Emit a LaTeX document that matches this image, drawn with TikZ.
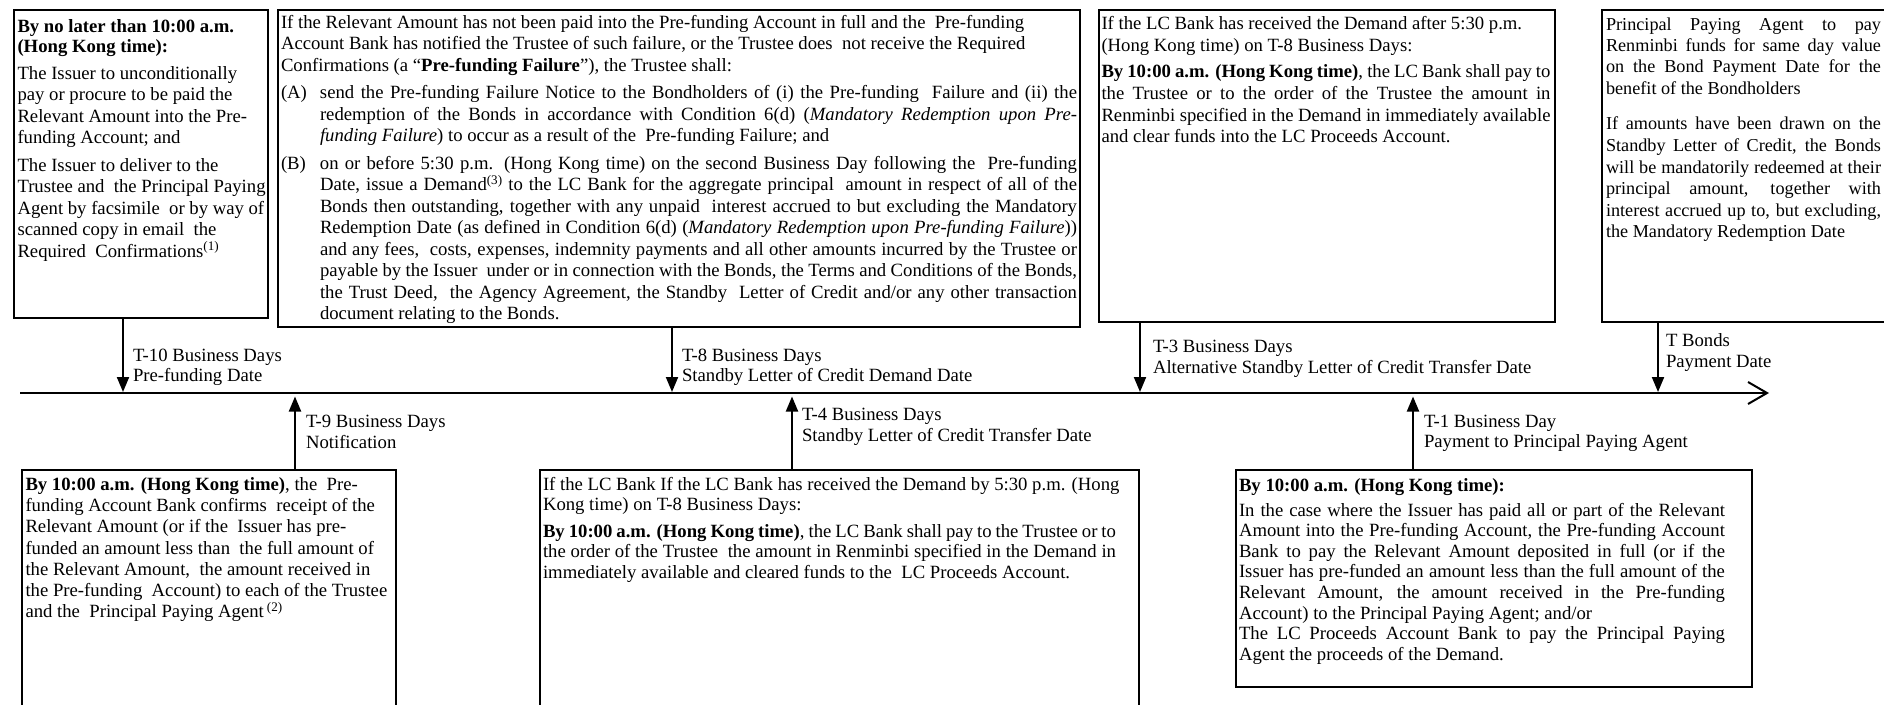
\documentclass[tikz,border=0pt]{standalone}
\usepackage{fontspec}
\setmainfont{Liberation Serif}
\usetikzlibrary{arrows.meta}
\newcommand\jln[1]{\hbox to \linewidth{#1}}
\newcommand\rln[1]{\hbox to \linewidth{#1\hfil}}
\newcommand\ijl[2]{\hbox to \linewidth{\hbox to 39pt{#1\hfil}#2}}
\newcommand\irl[2]{\hbox to \linewidth{\hbox to 39pt{#1\hfil}#2\hfil}}
\newcommand\bfs[1]{\fontsize{18.7}{#1}\selectfont}
\tikzset{
  frame/.style={draw=black, line width=1.5pt, inner sep=0pt, outer sep=0pt, anchor=north west},
  txt/.style={anchor=base west, inner sep=0pt, outer sep=0pt},
  arr/.style={line width=2pt, -{Triangle[length=15pt,width=12pt]}},
  axisline/.style={line width=2pt, -{Straight Barb[length=19pt,width=22pt]}},
}
\begin{document}
\begin{tikzpicture}[x=1pt,y=-1pt]
\useasboundingbox (0,0) rectangle (1884,704);
% ---------- frames ----------
\node[frame, minimum width=254pt, minimum height=308pt] (b1) at (14,10) {};
\node[frame, minimum width=802pt, minimum height=317pt] (b3) at (278,10) {};
\node[frame, minimum width=456pt, minimum height=312pt] (b5) at (1099,10) {};
\node[frame, minimum width=292pt, minimum height=312pt] (b6) at (1602,10) {};
\node[frame, minimum width=374pt, minimum height=242pt] (b2) at (22,470) {};
\node[frame, minimum width=599pt, minimum height=242pt] (b4) at (540,470) {};
\node[frame, minimum width=516pt, minimum height=217pt] (b7) at (1236,470) {};
% ---------- box texts ----------
\node[txt] (b1t) at (17.5,32) {\parbox[t]{248pt}{\bfs{20}%
\hbox{\textbf{By no later than 10:00 a.m.}}
\hbox{\textbf{(Hong Kong time):}}
\vspace{5.5pt}\bfs{21.5}%
\hbox{The Issuer to unconditionally}
\hbox{pay or procure to be paid the}
\hbox{Relevant Amount into the Pre-}
\hbox{funding Account; and}
\vspace{6pt}%
\hbox{The Issuer to deliver to the}
\hbox{Trustee and~ the Principal Paying}
\hbox{Agent by facsimile~ or by way of}
\hbox{scanned copy in email~ the}
\hbox{Required~ Confirmations\textsuperscript{(1)}}}};
\node[txt] (b2t) at (25.5,490.7) {\parbox[t]{368pt}{\bfs{21.1}%
\hbox{\textbf{By 10:00 a.m. (Hong Kong time)}, the~ Pre-}
\hbox{funding Account Bank confirms~ receipt of the}
\hbox{Relevant Amount (or if the~ Issuer has pre-}
\hbox{funded an amount less than~ the full amount of}
\hbox{the Relevant Amount,~ the amount received in}
\hbox{the Pre-funding~ Account) to each of the Trustee}
\hbox{and the~ Principal Paying Agent\,\textsuperscript{(2)}}}};
\node[txt] (b3t) at (281,28.3) {\parbox[t]{796pt}{\bfs{21.5}%
\hbox{If the Relevant Amount has not been paid into the Pre-funding Account in full and the~ Pre-funding}
\hbox{Account Bank has notified the Trustee of such failure, or the Trustee does~ not receive the Required}
\hbox{Confirmations (a “\textbf{Pre-funding Failure}”), the Trustee shall:}
\vspace{5.85pt}%
\ijl{(A)}{send the Pre-funding Failure Notice to the Bondholders of (i) the Pre-funding~ Failure and (ii) the}
\ijl{}{redemption of the Bonds in accordance with Condition 6(d) (\textit{Mandatory Redemption upon Pre-}}
\irl{}{\textit{funding Failure}) to occur as a result of the~ Pre-funding Failure; and}
\vspace{5.85pt}%
\ijl{(B)}{on or before 5:30 p.m. (Hong Kong time) on the second Business Day following the~ Pre-funding}
\ijl{}{Date, issue a Demand\textsuperscript{(3)} to the LC Bank for the aggregate principal~ amount in respect of all of the}
\ijl{}{Bonds then outstanding, together with any unpaid~ interest accrued to but excluding the Mandatory}
\ijl{}{Redemption Date (as defined in Condition 6(d) (\textit{Mandatory Redemption upon Pre-funding Failure}))}
\ijl{}{and any fees,~ costs, expenses, indemnity payments and all other amounts incurred by the Trustee or}
\ijl{}{payable by the Issuer~ under or in connection with the Bonds, the Terms and Conditions of the Bonds,}
\ijl{}{the Trust Deed,~ the Agency Agreement, the Standby~ Letter of Credit and/or any other transaction}
\irl{}{document relating to the Bonds.}}};
\node[txt] (b4t) at (543,490) {\parbox[t]{573pt}{\bfs{20.3}%
\hbox{If the LC Bank If the LC Bank has received the Demand by 5:30 p.m. (Hong}
\hbox{Kong time) on T-8 Business Days:}
\vspace{6.8pt}%
\jln{\textbf{By 10:00 a.m. (Hong Kong time)}, the LC Bank shall pay to the Trustee or to}
\jln{the order of the Trustee~ the amount in Renminbi specified in the Demand in}
\rln{immediately available and cleared funds to the~ LC Proceeds Account.}}};
\node[txt] (b5t) at (1101.5,29.3) {\parbox[t]{449pt}{\bfs{21.7}%
\hbox{If the LC Bank has received the Demand after 5:30 p.m.}
\hbox{(Hong Kong time) on T-8 Business Days:}
\vspace{5pt}%
\jln{\textbf{By 10:00 a.m. (Hong Kong time)}, the LC Bank shall pay to}
\jln{the Trustee or to the order of the Trustee the amount in}
\jln{Renminbi specified in the Demand in immediately available}
\rln{and clear funds into the LC Proceeds Account.}}};
\node[txt] (b6t) at (1606,30) {\parbox[t]{275pt}{\fontsize{18.2}{21.5}\selectfont
\jln{Principal Paying Agent to pay}
\jln{Renminbi funds for same day value}
\jln{on the Bond Payment Date for the}
\rln{benefit of the Bondholders}
\vspace{14pt}%
\jln{If amounts have been drawn on the}
\jln{Standby Letter of Credit, the Bonds}
\jln{will be mandatorily redeemed at their}
\jln{principal amount, together with}
\jln{interest accrued up to, but excluding,}
\rln{the Mandatory Redemption Date}}};
\node[txt] (b7t) at (1239,491) {\parbox[t]{486pt}{\bfs{20.6}%
\hbox{\textbf{By 10:00 a.m. (Hong Kong time):}}
\vspace{4.4pt}%
\jln{In the case where the Issuer has paid all or part of the Relevant}
\jln{Amount into the Pre-funding Account, the Pre-funding Account}
\jln{Bank to pay the Relevant Amount deposited in full (or if the}
\jln{Issuer has pre-funded an amount less than the full amount of the}
\jln{Relevant Amount, the amount received in the Pre-funding}
\rln{Account) to the Principal Paying Agent; and/or}
\jln{The LC Proceeds Account Bank to pay the Principal Paying}
\rln{Agent the proceeds of the Demand.}}};
% ---------- time axis ----------
\coordinate (ax0) at (20,393);
\coordinate (ax1) at (1769,393);
\draw[axisline] (ax0) -- (ax1);
% ---------- points on the axis ----------
\coordinate (p10) at (123,392);
\coordinate (p9)  at (295,396.5);
\coordinate (p8)  at (672,392);
\coordinate (p4)  at (792,396.5);
\coordinate (p3)  at (1140,392);
\coordinate (p1)  at (1413,396.5);
\coordinate (p0)  at (1658,392);
\draw[arr] (p10 |- b1.south) -- (p10);
\draw[arr] (p8 |- b3.south) -- (p8);
\draw[arr] (p3 |- b5.south) -- (p3);
\draw[arr] (p0 |- b6.south) -- (p0);
\draw[arr] (p9 |- b2.north) -- (p9);
\draw[arr] (p4 |- b4.north) -- (p4);
\draw[arr] (p1 |- b7.north) -- (p1);
% ---------- labels ----------
\node[txt] (l10) at (133,361) {\parbox[t]{400pt}{\bfs{20}\hbox{T-10 Business Days}\hbox{Pre-funding Date}}};
\node[txt] (l9) at (306,427) {\parbox[t]{400pt}{\bfs{21}\hbox{T-9 Business Days}\hbox{Notification}}};
\node[txt] (l8) at (682,361) {\parbox[t]{400pt}{\bfs{20}\hbox{T-8 Business Days}\hbox{Standby Letter of Credit Demand Date}}};
\node[txt] (l4) at (802,420) {\parbox[t]{400pt}{\bfs{21}\hbox{T-4 Business Days}\hbox{Standby Letter of Credit Transfer Date}}};
\node[txt] (l3) at (1153,352.5) {\parbox[t]{500pt}{\bfs{20.5}\hbox{T-3 Business Days}\hbox{Alternative Standby Letter of Credit Transfer Date}}};
\node[txt] (l1) at (1424,427) {\parbox[t]{400pt}{\bfs{20.7}\hbox{T-1 Business Day}\hbox{Payment to Principal Paying Agent}}};
\node[txt] (l0) at (1666,346) {\parbox[t]{200pt}{\bfs{21.2}\hbox{T Bonds}\hbox{Payment Date}}};
\end{tikzpicture}
\end{document}
